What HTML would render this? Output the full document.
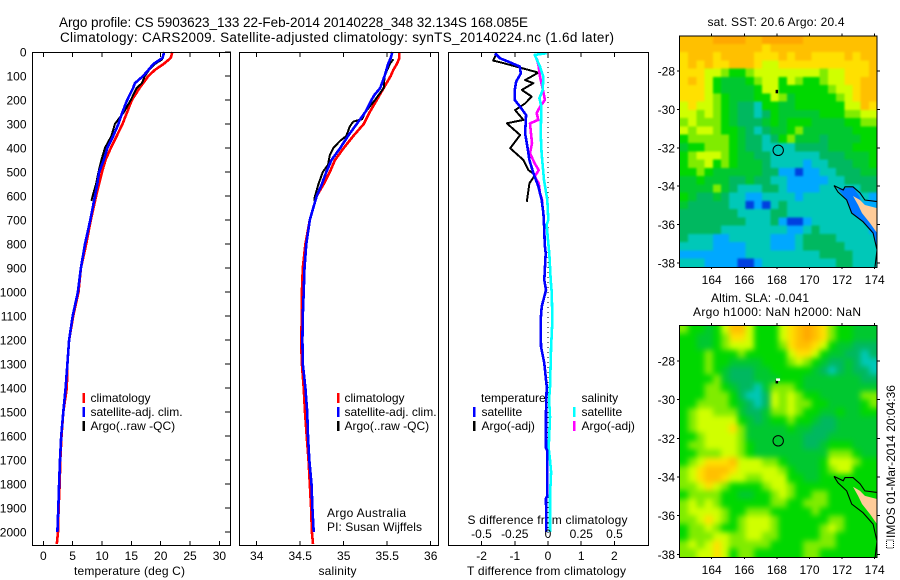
<!DOCTYPE html>
<html lang="en">
<head>
<meta charset="utf-8">
<title>Argo profile chart</title>
<style>
html,body{margin:0;padding:0;background:#fff;width:900px;height:580px;overflow:hidden}
svg{display:block}
text{font-family:"Liberation Sans",sans-serif;font-size:12px;fill:#000}
.t{font-size:13.5px}
</style>
</head>
<body>
<svg id="chart" width="900" height="580" viewBox="0 0 900 580" xmlns="http://www.w3.org/2000/svg">
<defs>
<clipPath id="clip-sst"><rect x="680" y="36" width="197" height="231"/></clipPath>
<clipPath id="clip-sla"><rect x="680" y="325.5" width="197" height="231.5"/></clipPath>
<filter id="blur-sst" filterUnits="userSpaceOnUse" x="660" y="16" width="240" height="270" color-interpolation-filters="sRGB"><feGaussianBlur stdDeviation="1"/></filter>
<filter id="blur-sla" filterUnits="userSpaceOnUse" x="660" y="305" width="240" height="275" color-interpolation-filters="sRGB"><feGaussianBlur stdDeviation="2.8"/></filter>
</defs>
<rect width="900" height="580" fill="#fff"/>
<text class="t" x="59" y="27" textLength="469">Argo profile: CS 5903623_133 22-Feb-2014 20140228_348 32.134S 168.085E</text>
<text class="t" x="60" y="42" textLength="554">Climatology: CARS2009. Satellite-adjusted climatology: synTS_20140224.nc (1.6d later)</text>
<text x="74" y="575" textLength="111">temperature (deg C)</text>
<text x="318.5" y="575" textLength="38">salinity</text>
<text x="467" y="575" textLength="159">T difference from climatology</text>
<text x="467.5" y="524" textLength="160">S difference from climatology</text>
<text x="327" y="517" textLength="79">Argo Australia</text>
<text x="327" y="531" textLength="95">PI: Susan Wijffels</text>
<text x="707.5" y="26" textLength="137">sat. SST: 20.6 Argo: 20.4</text>
<text x="711" y="302" textLength="98">Altim. SLA: -0.041</text>
<text x="693" y="316" textLength="168">Argo h1000: NaN h2000: NaN</text>
<rect x="886.5" y="540" width="7" height="8" fill="none" stroke="#000" stroke-width="1" stroke-dasharray="1 1"/>
<text transform="translate(895,538) rotate(-90)" textLength="153">IMOS 01-Mar-2014 20:04:36</text>
</svg>
<script>
// profile data
const depthLevels = [0,25,50,75,100,150,200,250,300,350,400,450,500,550,600,700,800,900,1000,1100,1200,1300,1400,1500,1600,1700,1800,1900,2000,2050];
const climTemp = [22.0,21.7,20.5,19,17.9,16.4,15.1,14.3,13.5,12.5,11.5,10.6,10,9.5,9,8.1,7.3,6.4,6.0,5.1,4.4,4.1,4.0,3.4,3.1,2.9,2.8,2.6,2.5,2.3];
const satDepth = [0,25,50,75,100,130,150,200,250,300,350,400,450,500,550,600,700,800,900,1000,1100,1200,1300,1400,1500,1600,1700,1800,1900,2000];
const satTemp = [20.6,20.3,18.75,17.9,17,15.6,15.3,14.3,13.5,12.8,11.9,10.9,10.3,9.5,9.2,8.8,8,7.1,6.4,5.9,5.0,4.4,4.1,3.8,3.4,3.05,2.85,2.7,2.55,2.4];
const argoDepth = [30,50,75,100,130,150,200,250,290,300,350,400,450,500,550,600,620];
const argoTemp = [20.3,19,18,17.3,16.8,15.9,14.9,13.75,12.5,12.2,11.6,10.5,9.9,9.4,9,8.4,8.2];
const climSal = [35.64,35.64,35.61,35.57,35.54,35.46,35.38,35.30,35.23,35.11,35.0,34.9,34.84,34.77,34.69,34.61,34.56,34.53,34.52,34.52,34.51,34.52,34.54,34.555,34.575,34.595,34.61,34.625,34.635,34.647];
const satSalDepth = [0,25,50,100,150,180,200,250,300,350,400,450,500,550,600,700,800,900,1000,1100,1200,1300,1400,1500,1600,1700,1800,1900,2000];
const satSal = [35.56,35.54,35.51,35.47,35.42,35.35,35.32,35.25,35.15,35.05,34.96,34.86,34.8,34.75,34.69,34.61,34.57,34.55,34.54,34.53,34.525,34.53,34.56,34.58,34.59,34.605,34.63,34.64,34.655];
const argoSalDepth = [30,50,100,150,200,250,280,290,310,350,370,400,430,470,500,550,600,620];
const argoSal = [35.57,35.53,35.47,35.46,35.36,35.25,35.21,35.11,35.07,35.03,34.96,34.88,34.84,34.82,34.76,34.71,34.67,34.66];

// difference data
const tSatDepth = [5,26,40,61,89,124,158,200,228,263,339,394,450,505,561,617,672,742,800,839,950,992,1061,1117,1228,1297,1394,1500,1650,1660,1850,1860,2000];
const tSatDiff = [-1.6,-1.45,-1.2,-0.85,-0.82,-0.96,-1.0,-1.0,-0.84,-0.66,-0.69,-0.62,-0.56,-0.44,-0.29,-0.19,-0.14,-0.11,-0.10,-0.07,-0.11,-0.06,-0.19,-0.22,-0.21,-0.11,-0.04,-0.06,-0.06,-0.02,-0.02,-0.06,-0.05];
const tArgoDepth = [8,36,44,86,117,130,158,186,214,242,283,297,346,401,450,492,512,547,624];
const tArgoDiff = [-1.55,-1.65,-1.4,-0.29,-0.69,-0.44,-0.79,-0.49,-0.69,-0.99,-0.74,-1.24,-0.84,-1.14,-0.74,-0.59,-0.39,-0.56,-0.64];
const sSatDepth = [5,12,61,103,158,193,228,339,422,533,617,700,720,783,839,950,1000,1117,1228,1394,1450,1520,1650,1700,1750,1850,2000];
const sSatDiff = [-0.01,-0.1,-0.06,-0.035,-0.04,-0.065,-0.05,-0.055,-0.048,-0.03,-0.005,0.0025,-0.01,0,0.01,0.02,0.028,0.033,0.023,0.015,0.008,0.015,0.005,0.015,0.023,0.015,0.015];
const sArgoDepth = [26,61,103,165,200,228,255,283,297,380,422,464,492,519,547,589,624];
const sArgoDiff = [-0.085,-0.07,-0.06,-0.035,-0.023,-0.06,-0.085,-0.073,-0.135,-0.12,-0.135,-0.1,-0.07,-0.1,-0.07,-0.06,-0.04];

// tick labels
const depthTicks = [0,100,200,300,400,500,600,700,800,900,1000,1100,1200,1300,1400,1500,1600,1700,1800,1900,2000];
const tempTicks = [0,5,10,15,20,25,30];
const salTicks = [34,34.5,35,35.5,36];
const tDiffTicks = [-2,-1,0,1,2];
const sDiffTicks = [-0.5,-0.25,0,0.25,0.5];
const lonTicks = [164,166,168,170,172,174];
const latTicks = [28,30,32,34,36,38];

// SST map levels (top row first, west to east)
const sstGrid = [
[9,9,9,9,10,10,10,10,9,9,10,10,10,10,10,9,9,9,9,9,9,9,9,9],
[9,9,9,9,9,9,9,9,9,9,8,9,9,9,9,9,9,9,9,9,9,9,9,9],
[8,9,9,9,8,9,9,9,9,8,8,8,9,8,9,9,8,8,8,8,9,8,9,9],
[8,9,8,9,8,8,9,9,9,8,7,7,8,8,8,8,8,8,8,8,8,8,8,9],
[8,8,8,7,7,6,5,5,6,7,7,7,7,7,7,7,7,6,7,7,8,8,8,9],
[8,9,8,7,5,4,4,4,5,6,7,7,5,7,6,5,5,6,7,7,8,8,9,9],
[8,8,8,7,5,4,4,4,4,5,7,7,5,5,5,5,5,5,6,7,7,8,9,9],
[8,8,8,7,6,5,4,4,4,5,5,7,6,4,5,5,5,5,5,6,7,8,9,9],
[7,8,7,7,6,5,4,3,3,2,5,5,4,4,5,5,5,5,5,5,7,7,9,8],
[7,7,6,7,6,5,4,3,3,2,3,5,4,4,4,4,4,5,5,5,6,6,7,7],
[6,7,6,6,6,5,4,3,3,3,4,5,4,5,5,5,4,4,4,4,5,5,6,6],
[7,6,7,7,6,5,5,4,3,2,3,4,4,5,6,4,4,4,4,4,4,5,5,5],
[5,6,6,6,6,6,5,4,3,3,2,3,5,6,4,4,4,3,4,4,4,4,5,5],
[4,5,5,6,6,6,5,4,3,3,2,2,2,2,3,3,3,3,4,4,4,5,5,5],
[5,6,7,7,7,6,5,4,4,3,3,2,2,2,2,2,2,3,3,3,4,4,4,5],
[5,6,6,7,5,6,5,4,4,4,3,2,2,2,2,1,2,2,3,3,3,4,4,5],
[5,5,6,5,4,4,4,4,4,4,3,3,1,1,0,1,1,2,2,3,3,3,4,4],
[4,4,5,4,4,4,3,3,4,3,3,2,2,1,1,1,1,1,2,2,3,3,3,3],
[4,4,4,4,6,4,3,2,2,2,3,3,2,1,1,1,1,2,2,2,2,2,3,3],
[5,4,3,3,4,3,2,2,1,1,2,2,2,2,1,2,2,2,2,2,2,1,2,1],
[4,3,3,3,3,3,2,2,0,1,0,2,3,2,2,2,2,2,2,2,2,2,1,1],
[3,3,3,3,3,3,3,2,2,2,2,3,3,2,2,2,2,2,2,2,2,2,2,2],
[3,3,3,3,3,3,3,3,2,2,2,3,1,0,0,1,2,2,2,2,2,2,2,1],
[3,3,3,3,3,2,2,2,2,2,2,2,2,1,1,2,3,2,2,2,2,2,2,1],
[3,2,2,2,1,1,2,2,2,2,2,1,1,1,2,3,3,3,3,2,2,2,2,2],
[2,2,2,2,1,1,1,1,2,2,2,1,1,1,2,3,3,3,3,3,2,2,2,2],
[1,1,1,1,1,1,1,1,2,2,2,2,2,2,2,2,2,3,3,3,3,2,2,2],
[2,2,2,1,1,1,1,0,0,1,2,2,2,2,2,2,2,2,2,3,3,2,2,2]
];

// SLA map levels (top row first, west to east)
const slaGrid = [
[6,5,5,4,5,7,9,9,7,5,5,5,7,8,9,10,9,8,6,5,5,4,4,4],
[5,5,4,4,5,6,8,8,7,5,5,5,7,8,9,10,9,8,6,5,5,4,4,4],
[5,5,4,4,5,6,7,7,7,5,5,5,6,8,9,9,8,7,5,4,4,3,3,3],
[5,5,5,6,5,5,5,6,5,5,5,5,5,7,8,8,7,5,4,4,3,3,2,3],
[5,5,5,6,5,5,4,4,4,4,5,5,5,6,7,6,5,4,3,3,4,3,2,2],
[5,5,5,6,5,4,3,3,3,4,4,5,5,5,5,5,4,3,2,3,4,3,3,2],
[5,5,5,5,6,4,3,3,3,4,4,4,5,5,5,4,4,4,4,4,4,4,3,3],
[5,5,5,6,6,5,4,3,3,2,4,6,6,6,5,4,4,4,4,4,4,4,4,4],
[5,5,5,6,6,6,5,3,2,2,3,7,6,7,6,5,5,4,4,4,4,4,6,6],
[5,5,6,6,6,6,5,4,3,2,3,7,6,7,6,6,5,5,4,4,4,4,5,6],
[5,6,7,7,6,6,6,4,3,3,4,6,6,7,6,5,5,4,4,5,4,4,5,5],
[5,6,7,7,7,7,7,5,4,3,4,5,5,6,5,5,4,3,3,4,4,4,4,4],
[5,6,7,7,7,7,8,6,4,4,4,4,4,5,4,4,3,3,3,4,4,4,4,4],
[5,5,6,7,7,7,7,6,4,4,4,4,4,4,4,3,3,3,4,4,4,4,4,4],
[5,6,6,7,7,7,7,6,5,4,4,4,4,4,4,3,3,4,5,5,5,4,4,4],
[5,5,6,6,6,7,7,6,5,4,4,4,4,4,4,4,4,4,6,6,6,5,4,4],
[5,6,7,8,8,8,9,7,7,7,6,6,5,4,4,4,4,5,7,7,7,6,5,5],
[6,7,8,9,9,9,8,7,7,7,7,7,6,5,4,4,4,5,6,7,7,5,5,5],
[6,7,8,9,9,8,7,7,6,6,7,7,7,5,5,4,4,5,5,5,5,5,5,5],
[6,6,7,8,7,6,5,5,5,5,6,7,7,6,5,5,5,5,5,5,5,5,5,5],
[5,6,6,6,6,5,5,4,4,5,5,6,7,6,5,5,6,6,5,5,5,5,5,5],
[6,7,6,7,6,5,5,5,5,5,5,6,6,5,5,6,6,6,5,5,5,5,5,5],
[6,7,7,7,7,6,5,5,6,6,6,5,5,5,5,5,6,5,5,5,5,5,5,5],
[6,6,7,8,7,6,5,6,7,7,7,6,5,5,5,5,5,5,6,6,5,5,5,5],
[5,6,6,7,6,5,5,6,7,7,7,6,5,5,5,5,5,6,7,6,5,5,5,5],
[5,6,6,6,7,7,6,6,7,7,6,6,5,5,5,5,5,6,6,5,5,5,5,5],
[6,7,6,7,8,7,6,6,6,6,6,5,5,5,5,6,6,6,6,5,5,5,5,5],
[6,6,7,7,8,7,5,6,6,5,5,5,5,5,5,6,6,5,5,5,5,5,5,5]
];
const levelColours = ['#0040e0','#00a8ff','#00c8b8','#00b860','#00c830','#00d800','#80ec00','#d0ff00','#ffe000','#ffc000','#ffa800'];

// coast geography
const coastALon = [171.5,171.75,172.28,172.59,173.28,173.9,174.14,174.02];
const coastALat = [33.97,34.3,34.72,35.4,35.85,36.44,37.32,38.2];
const coastBLon = [171.5,172.07,172.18,172.67,173.1,173.4,174.14];
const coastBLat = [33.97,34.2,34.03,34.03,34.35,34.72,34.8];
const landLon = [172.67,173.1,173.4,174.14,174.14,173.71,173.22,172.98];
const landLat = [34.51,34.72,34.98,35.14,36.44,35.92,35.4,34.98];
const blueLon = [171.75,172.2,172.7,173.1,173.4,174.14,174.14,173.9,173.28,172.59,172.28];
const blueLat = [34.15,34.1,34.05,34.6,35.4,36.4,37.3,36.44,35.85,35.4,34.72];
const floatLon = 168.08;
const floatLat = 32.13;

const svg = document.getElementById('chart');
const NS = 'http://www.w3.org/2000/svg';
function mk(tag, attrs, txt, parent){
  const el = document.createElementNS(NS, tag);
  for (const k in attrs) el.setAttribute(k, attrs[k]);
  if (txt !== undefined) el.textContent = txt;
  (parent || svg).appendChild(el);
  return el;
}
// axis functions
const depthY = d => 52 + d * 0.24;
const tempX = v => 43.3 + v * 5.87;
const salX = v => 256.7 + (v - 34) * 87;
const tDiffX = v => 548 + v * 33.2;
const sDiffX = v => 548 + v * 133;
const lonX = v => 711.7 + (v - 164) * 16.3;
const sstY = v => 71 + (v - 28) * 19.2;
const slaY = v => 361 + (v - 28) * 19.33;

function series(xs, ds, xf, colour, width, name){
  const pts = xs.map((v, i) => xf(v).toFixed(1) + ',' + depthY(ds[i]).toFixed(1)).join(' ');
  const el = mk('polyline', {points: pts, fill: 'none', stroke: colour, 'stroke-width': width, 'stroke-linejoin': 'round', 'shape-rendering': 'crispEdges'});
  
  
}
function frame(x, y, w, h, name){
  const el = mk('rect', {x: x, y: y, width: w, height: h, fill: 'none', stroke: '#000', 'stroke-width': 1, 'shape-rendering': 'crispEdges'});
  
  
}
function tick(x1, y1, x2, y2, name){
  const el = mk('line', {x1: x1, y1: y1, x2: x2, y2: y2, stroke: '#000', 'stroke-width': 1, 'shape-rendering': 'crispEdges'});
  
  
}
function label(x, y, s, anchor, name){
  const el = mk('text', {x: x, y: y, 'text-anchor': anchor}, s);
  
  
}
function legendRow(mx, tx, y, colour, s, name){
  const m = mk('rect', {x: mx - 1, y: y - 5, width: 2.6, height: 10, fill: colour, 'shape-rendering': 'crispEdges'});
  
  
  label(tx, y + 4, s, 'start', name + '-label');
}

// temperature panel
series(climTemp, depthLevels, tempX, '#ff0000', 2.6, 'temperature-climatology-line');
series(argoTemp, argoDepth, tempX, '#000000', 2, 'temperature-argo-line');
series(satTemp, satDepth, tempX, '#0000ff', 2.6, 'temperature-satellite-line');
frame(32.5, 52.5, 198, 493, 'temperature-panel-frame');
depthTicks.forEach(d => {
  tick(225, depthY(d), 231, depthY(d), 'depth-tick');
  label(26.5, depthY(d) + 4.5, String(d), 'end', 'depth-tick-label');
});
tempTicks.forEach(v => {
  tick(tempX(v), 52, tempX(v), 57, 'temperature-top-tick');
  tick(tempX(v), 541, tempX(v), 545, 'temperature-bottom-tick');
  label(tempX(v), 560, String(v), 'middle', 'temperature-tick-label');
});
legendRow(83.5, 90.5, 398, '#ff0000', 'climatology', 'temperature-legend-climatology');
legendRow(83.5, 90.5, 412, '#0000ff', 'satellite-adj. clim.', 'temperature-legend-satellite');
legendRow(83.5, 90.5, 426, '#000000', 'Argo(..raw -QC)', 'temperature-legend-argo');

// salinity panel
series(climSal, depthLevels, salX, '#ff0000', 2.6, 'salinity-climatology-line');
series(argoSal, argoSalDepth, salX, '#000000', 2, 'salinity-argo-line');
series(satSal, satSalDepth, salX, '#0000ff', 2.6, 'salinity-satellite-line');
frame(239.5, 52.5, 199, 493, 'salinity-panel-frame');
salTicks.forEach(v => {
  tick(salX(v), 52, salX(v), 57, 'salinity-top-tick');
  tick(salX(v), 541, salX(v), 545, 'salinity-bottom-tick');
  label(salX(v), 560, String(v), 'middle', 'salinity-tick-label');
});
legendRow(338, 344.5, 398, '#ff0000', 'climatology', 'salinity-legend-climatology');
legendRow(338, 344.5, 412, '#0000ff', 'satellite-adj. clim.', 'salinity-legend-satellite');
legendRow(338, 344.5, 426, '#000000', 'Argo(..raw -QC)', 'salinity-legend-argo');

// difference panel
const zero = mk('line', {x1: tDiffX(0), y1: 52, x2: tDiffX(0), y2: 545, stroke: '#000', 'stroke-width': 1, 'stroke-dasharray': '1 4', 'shape-rendering': 'crispEdges'});


series(tArgoDiff, tArgoDepth, tDiffX, '#000000', 2, 'temperature-difference-argo-line');
series(sArgoDiff, sArgoDepth, sDiffX, '#ff00ff', 2.6, 'salinity-difference-argo-line');
series(sSatDiff, sSatDepth, sDiffX, '#00ffff', 2.6, 'salinity-difference-satellite-line');
series(tSatDiff, tSatDepth, tDiffX, '#0000ff', 2.6, 'temperature-difference-satellite-line');
frame(448.5, 52.5, 200, 493, 'difference-panel-frame');
tDiffTicks.forEach(v => {
  tick(tDiffX(v), 52, tDiffX(v), 57, 'difference-top-tick');
  tick(tDiffX(v), 541, tDiffX(v), 545, 'difference-bottom-tick');
  label(tDiffX(v), 560, String(v), 'middle', 'temperature-difference-tick-label');
});
sDiffTicks.forEach(v => {
  label(sDiffX(v), 538, String(v), 'middle', 'salinity-difference-tick-label');
});
label(481, 402, 'temperature', 'start', 'difference-legend-temperature-heading');
label(581.5, 402, 'salinity', 'start', 'difference-legend-salinity-heading');
legendRow(474, 481.5, 412, '#0000ff', 'satellite', 'difference-legend-temperature-satellite');
legendRow(474, 481.5, 426, '#000000', 'Argo(-adj)', 'difference-legend-temperature-argo');
legendRow(574, 581.5, 412, '#00ffff', 'satellite', 'difference-legend-salinity-satellite');
legendRow(574, 581.5, 426, '#ff00ff', 'Argo(-adj)', 'difference-legend-salinity-argo');

// maps
function drawMap(grid, yf, prefix, frameTop, frameBottom, lonLabelY, hasCoastalBlue){
  const lon0 = 162.05, dLon = 12.1 / grid[0].length;
  const pxPerLat = yf(29) - yf(28);
  const lat0 = 28 + (frameTop - yf(28)) / pxPerLat;
  const dLat = (frameBottom - frameTop) / pxPerLat / grid.length;
  const clip = mk('g', {'clip-path': 'url(#clip-' + prefix + ')'});
  
  
  const layer = mk('g', {filter: 'url(#blur-' + prefix + ')'}, undefined, clip);
  
  
  const lastR = grid.length - 1, lastC = grid[0].length - 1;
  grid.forEach((row, r) => row.forEach((v, c) => {
    const x0 = lonX(lon0 + c * dLon) - (c === 0 ? 14 : 0);
    const x1 = lonX(lon0 + (c + 1) * dLon) + (c === lastC ? 14 : 0);
    const y0 = yf(lat0 + r * dLat) - (r === 0 ? 14 : 0);
    const y1 = yf(lat0 + (r + 1) * dLat) + (r === lastR ? 14 : 0);
    const cell = mk('rect', {x: x0.toFixed(2), y: y0.toFixed(2), width: (x1 - x0 + 0.5).toFixed(2), height: (y1 - y0 + 0.5).toFixed(2), fill: levelColours[v], 'shape-rendering': 'crispEdges'}, undefined, layer);
    
    
  }));
  if (hasCoastalBlue) {
    const water = mk('polygon', {points: blueLon.map((v, i) => lonX(v).toFixed(1) + ',' + yf(blueLat[i]).toFixed(1)).join(' '), fill: '#0078ff'}, undefined, clip);
    
    
  }
  const land = mk('polygon', {points: landLon.map((v, i) => lonX(v).toFixed(1) + ',' + yf(landLat[i]).toFixed(1)).join(' '), fill: '#ffcc99'}, undefined, clip);
  
  
  const a = mk('polyline', {points: coastALon.map((v, i) => lonX(v).toFixed(1) + ',' + yf(coastALat[i]).toFixed(1)).join(' '), fill: 'none', stroke: '#000', 'stroke-width': 1.1}, undefined, clip);
  
  
  const b = mk('polyline', {points: coastBLon.map((v, i) => lonX(v).toFixed(1) + ',' + yf(coastBLat[i]).toFixed(1)).join(' '), fill: 'none', stroke: '#000', 'stroke-width': 1.1}, undefined, clip);
  
  
  const dot = mk('rect', {x: lonX(167.92), y: yf(28.98), width: 2.5, height: 3.5, fill: '#000'}, undefined, clip);
  
  
  if (!hasCoastalBlue) {
    const halo = mk('rect', {x: lonX(167.95), y: yf(28.9), width: 4, height: 2.5, fill: '#fff'}, undefined, clip);
    
    
  }
  const circ = mk('circle', {cx: lonX(floatLon), cy: yf(floatLat), r: 5.2, fill: 'none', stroke: '#000', 'stroke-width': 1});
  
  
  frame(679.5, frameTop + 0.5, 197.5, frameBottom - frameTop, prefix + '-map-frame');
  lonTicks.forEach(v => {
    tick(lonX(v), frameTop - 2, lonX(v), frameTop, prefix + '-top-tick');
    tick(lonX(v), frameBottom, lonX(v), frameBottom + 2, prefix + '-bottom-tick');
    label(lonX(v), lonLabelY, String(v), 'middle', prefix + '-longitude-label');
  });
  latTicks.forEach(v => {
    tick(677, yf(v), 680, yf(v), prefix + '-left-tick');
    tick(877, yf(v), 880, yf(v), prefix + '-right-tick');
    label(675, yf(v) + 4.5, '-' + v, 'end', prefix + '-latitude-label');
  });
}
drawMap(sstGrid, sstY, 'sst', 35.5, 267, 284, true);
drawMap(slaGrid, slaY, 'sla', 325, 557, 574, false);
</script>
</body>
</html>
